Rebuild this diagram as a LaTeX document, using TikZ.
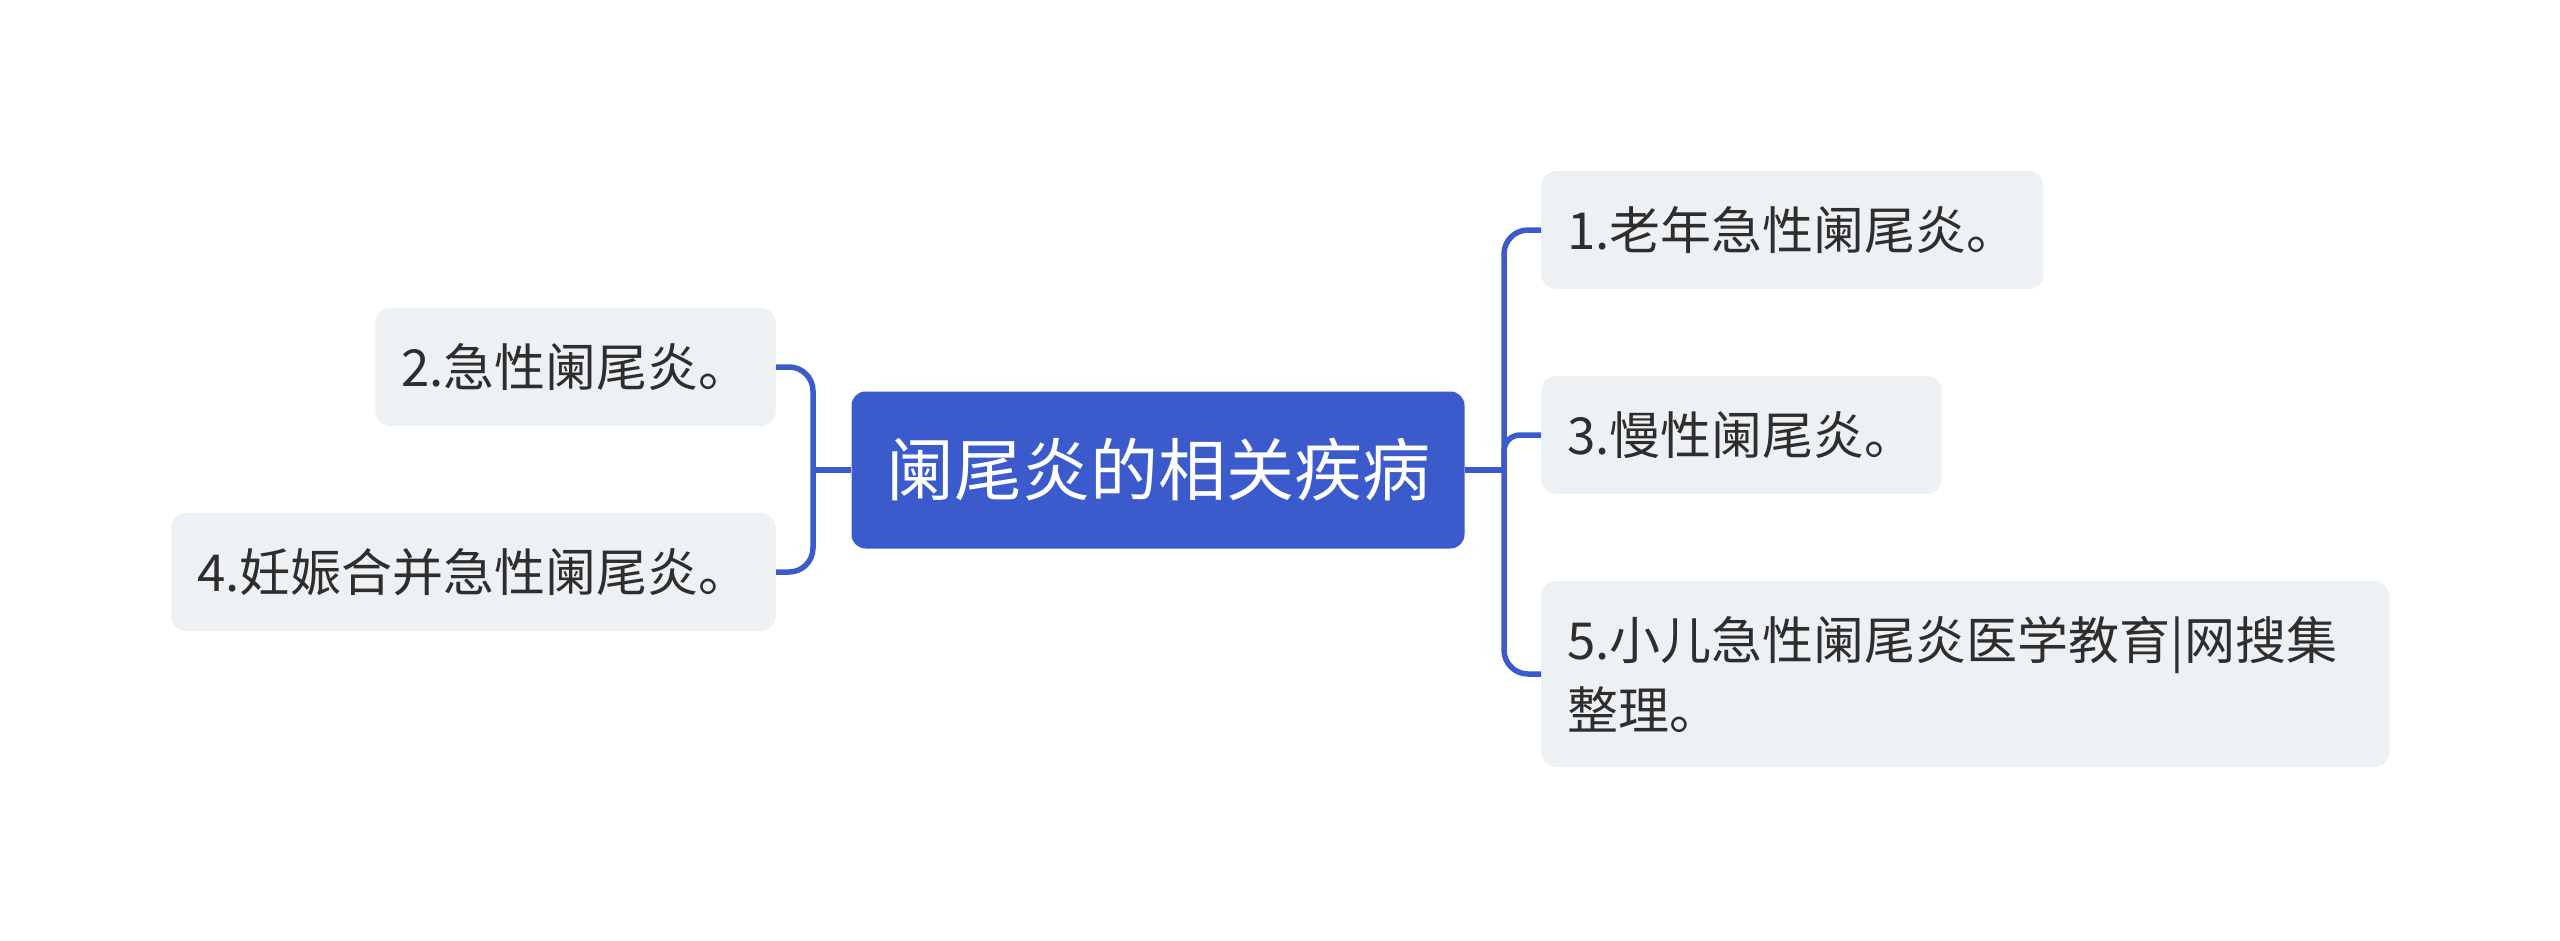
\documentclass[tikz,border=0pt]{standalone}
\usepackage{fontspec}
\setmainfont{Noto Sans CJK SC}
\usetikzlibrary{positioning}
\definecolor{mapblue}{HTML}{3B5BCC}
\definecolor{leaffill}{HTML}{EEF1F4}
\definecolor{leaftext}{HTML}{2E2E2E}

\begin{document}
\begin{tikzpicture}[x=1pt, y=-1pt,
    root/.style={fill=mapblue, rounded corners=14pt, minimum width=613pt, minimum height=157pt, inner sep=0pt, text=white, font=\fontsize{68}{80}\selectfont},
    leaf/.style={fill=leaffill, rounded corners=15pt, minimum height=118pt, inner xsep=26pt, inner ysep=0pt, text=leaftext, font=\fontsize{51}{70}\selectfont},
    link/.style={draw=mapblue, line width=5.5pt, rounded corners=24pt}
]
\useasboundingbox (0,0) rectangle (2560,940);
\node[root] (root) at (1158,470) {阑尾炎的相关疾病};
% right side
\node[leaf, anchor=west] (old) at (1541,230) {1.老年急性阑尾炎。};
\node[leaf, anchor=west] (chronic) at (1541,435) {3.慢性阑尾炎。};
\node[leaf, anchor=west, text width=796pt, align=left, minimum height=186pt] (child) at (1541,674) {5.小儿急性阑尾炎医学教育|网搜集\\整理。};
% left side
\node[leaf, anchor=east] (acute) at (776,367) {2.急性阑尾炎。};
\node[leaf, anchor=east] (preg) at (776,572) {4.妊娠合并急性阑尾炎。};

\coordinate (rj) at (1504,470);
\coordinate (lj) at (813,470);
\draw[link] (root.east) -- (rj);
\draw[link] (rj) |- (old.west);
\draw[link, rounded corners=16pt] (rj) |- (chronic.west);
\draw[link] (rj) |- (child.west);
\draw[link] (root.west) -- (lj);
\draw[link] (lj) |- (acute.east);
\draw[link] (lj) |- (preg.east);
\end{tikzpicture}
\end{document}
